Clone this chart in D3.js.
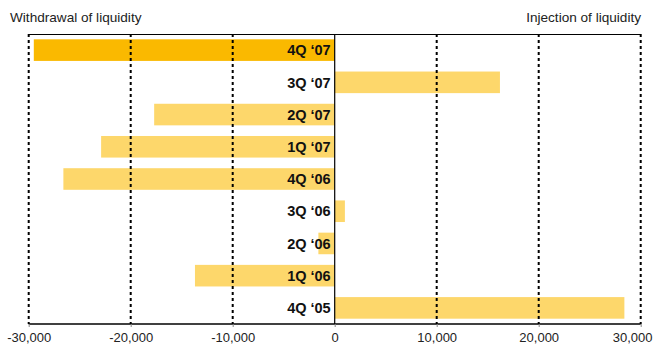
<!DOCTYPE html>
<html>
<head>
<meta charset="utf-8">
<script src="https://cdn.jsdelivr.net/npm/d3@7"></script>
<style>
  body { margin: 0; background: #fff; }
  svg { display: block; font-family: "Liberation Sans", Arial, sans-serif; }
</style>
</head>
<body>
<svg id="chart" width="654" height="352"></svg>
<script>
// Quarterly net liquidity operations (top = latest quarter)
const quarters = ["4Q \u201807", "3Q \u201807", "2Q \u201807", "1Q \u201807", "4Q \u201806", "3Q \u201806", "2Q \u201806", "1Q \u201806", "4Q \u201805"];
const values = [-29500, 16200, -17700, -22900, -26600, 1000, -1600, -13700, 28400];
const highlight = ["4Q \u201807"];
const tickValues = [-30000, -20000, -10000, 0, 10000, 20000, 30000];

const svg = d3.select("#chart");
const margin = { left: 28.7, right: 13.3, top: 34, bottom: 28 };
const W = 654, H = 352;

const x = d3.scaleLinear().domain([-30000, 30000]).range([margin.left, W - margin.right]);
const y = d3.scaleBand().domain(quarters).range([margin.top, H - margin.bottom]).paddingInner(0.33).paddingOuter(0.165);

const fmt = d3.formatLocale({ decimal: ".", thousands: ",", grouping: [3], currency: ["", ""], minus: "-" }).format(",d");

// Header labels
svg.append("text").attr("x", 10).attr("y", 22).attr("font-size", 13.6).attr("fill", "#222")
  .text("Withdrawal of liquidity");
svg.append("text").attr("x", 641).attr("y", 22).attr("font-size", 13.6).attr("fill", "#222")
  .attr("text-anchor", "end").text("Injection of liquidity");

// Bars
svg.append("g").selectAll("rect").data(quarters).join("rect")
  .attr("x", (d, i) => x(Math.min(0, values[i])))
  .attr("width", (d, i) => Math.abs(x(values[i]) - x(0)))
  .attr("y", d => y(d))
  .attr("height", y.bandwidth())
  .attr("fill", d => highlight.includes(d) ? "#FAB900" : "#FDD76B");

// Dotted grid lines at non-zero ticks
svg.append("g").selectAll("line").data(tickValues.filter(v => v !== 0)).join("line")
  .attr("x1", d => x(d)).attr("x2", d => x(d))
  .attr("y1", margin.top).attr("y2", H - margin.bottom)
  .attr("stroke", "#000").attr("stroke-width", 2).attr("stroke-dasharray", "3,3");

// Top frame line and zero line
svg.append("line").attr("x1", x(-30000)).attr("x2", x(30000))
  .attr("y1", margin.top + 0.5).attr("y2", margin.top + 0.5)
  .attr("stroke", "#000").attr("stroke-width", 1.2);
svg.append("line").attr("x1", x(0)).attr("x2", x(0))
  .attr("y1", margin.top).attr("y2", H - margin.bottom)
  .attr("stroke", "#000").attr("stroke-width", 1.2);

// Bottom axis
const axis = d3.axisBottom(x).tickValues(tickValues).tickSize(3).tickPadding(6).tickFormat(fmt);
const gx = svg.append("g").attr("transform", `translate(0,${H - margin.bottom})`).call(axis);
gx.select(".domain").attr("stroke", "#000").attr("stroke-width", 1.5).attr("d", `M${x(-30000)},0H${x(30000)}`);
gx.selectAll(".tick line").attr("stroke", "#888");
gx.selectAll(".tick text").attr("font-size", 13).attr("fill", "#222")
  .attr("font-family", "'Liberation Sans', Arial, sans-serif");
// keep the outermost label inside the frame
gx.selectAll(".tick text").filter(d => d === 30000)
  .attr("text-anchor", "end").attr("x", W - 2 - x(30000));

// Category labels, right-aligned against the zero line
svg.append("g").selectAll("text").data(quarters).join("text")
  .attr("x", x(0) - 4)
  .attr("y", d => y(d) + y.bandwidth() / 2)
  .attr("dy", "0.36em")
  .attr("text-anchor", "end")
  .attr("font-size", 14.5).attr("font-weight", "bold").attr("fill", "#111")
  .text(d => d);
</script>
</body>
</html>
